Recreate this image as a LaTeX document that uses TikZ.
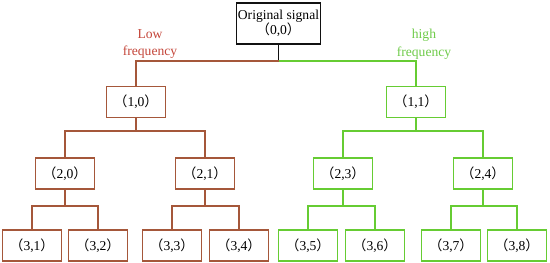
\documentclass[tikz,border=0pt]{standalone}
\usepackage{fontspec}
\setmainfont{Liberation Serif}
\newfontfamily\cjk{Noto Sans CJK SC}
\usepackage{tikz}
\usetikzlibrary{positioning, calc}
\definecolor{Ink}{HTML}{111111}
\definecolor{Brown}{HTML}{A5573A}
\definecolor{LowRed}{HTML}{C4463A}
\definecolor{Lime}{HTML}{66CC33}
\definecolor{HighGreen}{HTML}{6FCB4A}
\newcommand{\idx}[1]{{\cjk （}#1{\cjk ）}}

\begin{document}
\begin{tikzpicture}[
  x=0.03cm, y=-0.03cm,
  font=\fontsize{11.6}{13}\selectfont,
  nodebox/.style={draw, line width=0.9pt, align=center, minimum width=1.77cm, minimum height=0.93cm, inner sep=1pt, fill=white},
  rootbox/.style={nodebox, draw=Ink, line width=1.1pt, minimum width=2.49cm, minimum height=1.23cm},
  lowbox/.style={nodebox, draw=Brown},
  highbox/.style={nodebox, draw=Lime},
  lowline/.style={draw=Brown, line width=0.9pt},
  highline/.style={draw=Lime, line width=0.9pt},
  bandlabel/.style={align=center, inner sep=0pt, font=\fontsize{11.6}{15}\selectfont}
]
\useasboundingbox (0,0) rectangle (550,263);

% root
\node[rootbox] (root) at (278.5,23.5) {Original signal\\\idx{0,0}};
\coordinate (s0) at (278.5,61);

% level 1
\node[lowbox] (n10) at (136,102) {\idx{1,0}};
\node[highbox] (n11) at (416,102) {\idx{1,1}};
\node[bandlabel, text=LowRed] (low) at (150,44) {Low\\frequency};
\node[bandlabel, text=HighGreen] (high) at (424,44) {high\\frequency};

% level 2
\node[lowbox] (n20) at (65,173.5) {\idx{2,0}};
\node[lowbox] (n21) at (205,173.5) {\idx{2,1}};
\node[highbox] (n23) at (343,173.5) {\idx{2,3}};
\node[highbox] (n24) at (483,173.5) {\idx{2,4}};

% level 3
\node[lowbox] (n31) at (32,245.5) {\idx{3,1}};
\node[lowbox] (n32) at (98,245.5) {\idx{3,2}};
\node[lowbox] (n33) at (172,245.5) {\idx{3,3}};
\node[lowbox] (n34) at (239,245.5) {\idx{3,4}};
\node[highbox] (n35) at (308,245.5) {\idx{3,5}};
\node[highbox] (n36) at (375,245.5) {\idx{3,6}};
\node[highbox] (n37) at (451,245.5) {\idx{3,7}};
\node[highbox] (n38) at (517,245.5) {\idx{3,8}};

% connectors
\draw[line width=0.9pt, draw=Ink] (root) -- (s0);
\draw[lowline] (s0) -| (n10);
\draw[highline] (s0) -| (n11);

\coordinate (s10) at (136,131);
\coordinate (s11) at (416,131);
\draw[lowline] (n10) -- (s10);
\draw[lowline] (n20) |- (s10) -| (n21);
\draw[highline] (n11) -- (s11);
\draw[highline] (n23) |- (s11) -| (n24);

\coordinate (s20) at (65,206);
\coordinate (s21) at (205,206);
\coordinate (s23) at (343,206);
\coordinate (s24) at (483,206);
\draw[lowline] (n20) -- (s20);
\draw[lowline] (n31) |- (s20) -| (n32);
\draw[lowline] (n21) -- (s21);
\draw[lowline] (n33) |- (s21) -| (n34);
\draw[highline] (n23) -- (s23);
\draw[highline] (n35) |- (s23) -| (n36);
\draw[highline] (n24) -- (s24);
\draw[highline] (n37) |- (s24) -| (n38);
\end{tikzpicture}
\end{document}
